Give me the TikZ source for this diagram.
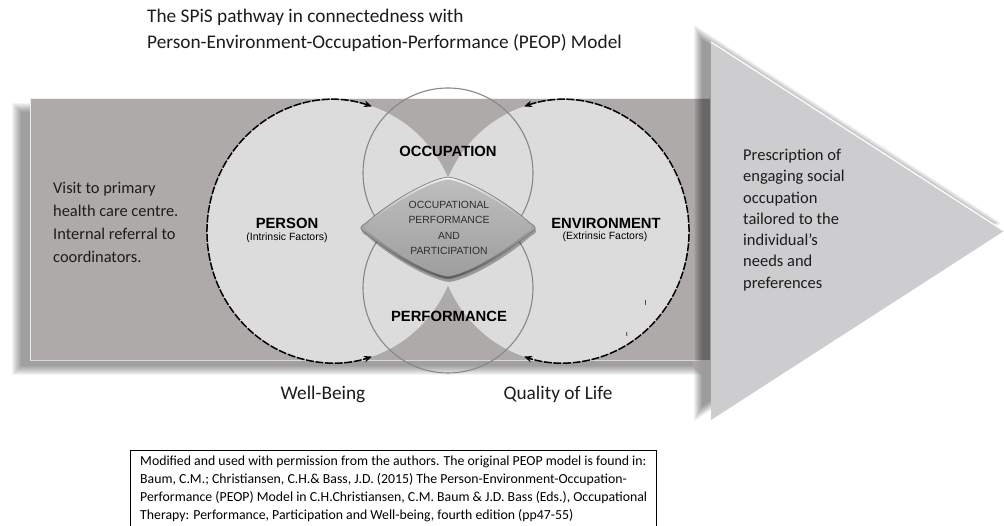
\documentclass[tikz,border=0pt]{standalone}
\usepackage{fontspec}
\setmainfont{Carlito}
\newfontfamily\labelfont{Liberation Sans}
\usetikzlibrary{arrows.meta}

\definecolor{bandgray}{RGB}{174,170,170}
\definecolor{circlefill}{RGB}{220,220,220}
\definecolor{tipfill}{RGB}{205,204,206}
\definecolor{ringgray}{RGB}{135,135,135}
\definecolor{textdark}{RGB}{28,28,28}
\definecolor{lenstext}{RGB}{45,45,45}

% eye-shaped centre piece with rounded side tips, drawn around (0,0)
\newcommand\lenspath{(-82,5) .. controls (-56,28) and (-18,49) .. (0,51)
  .. controls (18,49) and (56,28) .. (82,5)
  .. controls (89,1) and (89,-1) .. (82,-5)
  .. controls (56,-28) and (18,-49) .. (0,-51)
  .. controls (-18,-49) and (-56,-28) .. (-82,-5)
  .. controls (-89,-1) and (-89,1) .. (-82,5) -- cycle}

\begin{document}
\begin{tikzpicture}[x=1pt,y=1pt,
  shadowlayer/.style={black,opacity=0.045},
  loopdash/.style={black,line width=1.5pt,dash pattern=on 8pt off 1.6pt,
    {Stealth[length=8pt,width=6.5pt]}-{Stealth[length=8pt,width=6.5pt]}},
  ring/.style={ringgray,line width=1.1pt},
  bigtext/.style={font=\fontsize{16.4}{23}\selectfont,text=textdark,align=left,inner sep=0pt},
  factor/.style={font=\labelfont\fontsize{14.8}{17}\selectfont\bfseries,text=black,inner sep=0pt},
  factorsub/.style={font=\labelfont\fontsize{10.5}{12}\selectfont,text=black,inner sep=0pt},
  outcome/.style={font=\fontsize{19.3}{22}\selectfont,text=textdark,inner sep=0pt},
  heading/.style={font=\fontsize{19.3}{22}\selectfont,text=textdark,inner sep=0pt,anchor=base west}]

\useasboundingbox (0,0) rectangle (1004,526);
\fill[white] (0,0) rectangle (1004,526);

% title
\node[heading] (title1) at (147,503) {The SPiS pathway in connectedness with};
\node[heading] (title2) at (147,477) {Person-Environment-Occupation-Performance (PEOP) Model};

% pathway band with its soft shadow (stacked translucent layers)
\foreach \e in {0,...,9}
  \fill[shadowlayer] (21-\e,160-\e) rectangle (693+\e,414+\e);
\fill[bandgray] (30,166) rectangle (710,428);
\draw[white,opacity=0.8,line width=1pt] (30.5,166) -- (30.5,427.5) -- (710,427.5);
\draw[white,opacity=0.6,line width=1pt] (30,165.5) -- (710,165.5);

% arrow head with its soft shadow, grown about the shadow's incentre
\foreach \e in {0,...,8}{
  \pgfmathsetmacro\grow{1+(\e-3)/103}
  \fill[shadowlayer,opacity=0.05,shift={(802,303)},scale=\grow]
    (-103,-189) -- (-103,189) -- (190,0) -- cycle;
}
\fill[tipfill] (711,106) -- (711,484) -- (1004,295) -- cycle;
\draw[white,line width=1.2pt] (711,484) -- (1004,295);

% person and environment discs
\coordinate (personc) at (333,294.5);
\coordinate (envc) at (563,294.5);
\fill[circlefill] (personc) ellipse [x radius=126,y radius=131.5];
\fill[circlefill] (envc) ellipse [x radius=126,y radius=131.5];

% occupation and performance rings
\coordinate (occc) at (448,353);
\coordinate (perfc) at (448,238);
\draw[ring] (occc) circle [radius=85];
\draw[ring] (perfc) circle [radius=85];

% bevelled centre piece
\begin{scope}[shift={(448,298)}]
  \fill[black,opacity=0.3,xshift=1pt,yshift=-3pt] \lenspath;
  \shade[top color={rgb,255:red,240;green,240;blue,240},bottom color={rgb,255:red,90;green,90;blue,90}] \lenspath;
  \shade[scale=0.95,top color={rgb,255:red,190;green,190;blue,190},bottom color={rgb,255:red,158;green,158;blue,158}] \lenspath;
  \draw[black!55,line width=0.6pt] \lenspath;
\end{scope}

% dashed loops round the outer discs
\draw[loopdash] (personc) ++(72:126 and 131.5)
  arc[start angle=72,end angle=288,x radius=126,y radius=131.5];
\draw[loopdash] (envc) ++(108:126 and 131.5)
  arc[start angle=108,end angle=-108,x radius=126,y radius=131.5];

% stray marks inside the environment disc
\draw[black!70,line width=0.6pt] (645,221) -- (645,226);
\node[font=\labelfont\fontsize{6}{7}\selectfont,inner sep=0pt] (mark) at (627,191) {t};

% labels
\node[factor] (person) at (287,303) {PERSON};
\node[factorsub] (personsub) at (287,288) {(Intrinsic Factors)};
\node[factor] (environment) at (606,303) {ENVIRONMENT};
\node[factorsub] (environmentsub) at (605,289) {(Extrinsic Factors)};
\node[factor] (occupation) at (448,375) {OCCUPATION};
\node[factor] (performance) at (449,210) {PERFORMANCE};
\node[font=\labelfont\fontsize{10.4}{15.5}\selectfont,text=lenstext,align=center,inner sep=0pt]
  (opp) at (449,298) {OCCUPATIONAL\\PERFORMANCE\\AND\\PARTICIPATION};

% side texts
\node[bigtext,anchor=west] (visit) at (53,304)
  {Visit to primary\\health care centre.\\Internal referral to\\coordinators.};
\node[bigtext,anchor=west,font=\fontsize{16.5}{21.3}\selectfont] (prescription) at (743,306)
  {Prescription of\\engaging social\\occupation\\tailored to the\\individual’s\\needs and\\preferences};

% outcomes
\node[outcome] (wellbeing) at (323,132) {Well-Being};
\node[outcome] (qol) at (558,132) {Quality of Life};

% source note (its lower edge runs off the page)
\draw[black,line width=0.9pt] (130,-5) rectangle (656,75.5);
\node[anchor=north west,align=left,inner sep=0pt,font=\fontsize{13.8}{18}\selectfont,text=black] (source) at (140,70.5)
  {Modified and used with permission from the authors. The original PEOP model is found in:\\
   Baum, C.M.; Christiansen, C.H.\& Bass, J.D. (2015) The Person-Environment-Occupation-\\
   Performance (PEOP) Model in C.H.Christiansen, C.M. Baum \& J.D. Bass (Eds.), Occupational\\
   Therapy: Performance, Participation and Well-being, fourth edition (pp47-55)};
\end{tikzpicture}
\end{document}
